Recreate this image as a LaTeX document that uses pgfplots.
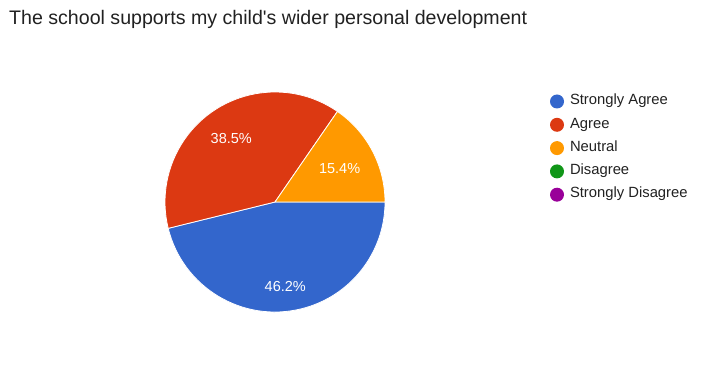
\documentclass[border=0pt]{standalone}
\usepackage{pgfplots}
\pgfplotsset{compat=1.18}
\usepackage{fontspec}
\setmainfont{Liberation Sans}
\definecolor{cSA}{HTML}{3366CC}
\definecolor{cA}{HTML}{DC3912}
\definecolor{cN}{HTML}{FF9900}
\definecolor{cD}{HTML}{109618}
\definecolor{cSD}{HTML}{990099}
\definecolor{txt}{HTML}{212121}
% #1 cumulative percent before slice, #2 percent, #3 colour
\newcommand\slice[3]{%
  \fill[#3, draw=white, line width=0.8bp] (axis cs:275,167) -- ++({360-3.6*(#1+#2)}:110bp)
    arc[start angle={360-3.6*(#1+#2)}, end angle={360-3.6*(#1)}, radius=110bp] -- cycle;
}
\newcommand\slicelabel[4]{%
  \path (axis cs:275,167) ++({360-3.6*(#1+#2/2)}:#4bp) node[text=white, font=\fontsize{14.5bp}{17bp}\selectfont] {#3\%};
}
\begin{document}
\begin{tikzpicture}
\begin{axis}[
  scale only axis, width=720bp, height=369bp,
  xmin=0, xmax=720, ymin=0, ymax=369, enlargelimits=false,
  hide axis, clip=false,
  legend style={at={(axis cs:550,274.5)}, anchor=north west, draw=none, fill=none,
    inner sep=0pt, outer sep=0pt, row sep=9.3bp,
    font=\fontsize{14.8bp}{17bp}\selectfont, text=txt,
    nodes={inner xsep=6bp, inner ysep=0pt, text height=10bp, text depth=3.5bp}},
  legend cell align=left,
  legend image code/.code={\fill[#1, draw=none] (0bp,0bp) circle (7bp);},
]
\path[draw=none] (axis cs:0,0) rectangle (axis cs:720,369);
\slice{0}{46.15}{cSA}
\slice{46.15}{38.46}{cA}
\slice{84.61}{15.39}{cN}
\slicelabel{0}{46.15}{46.2}{85}
\slicelabel{46.15}{38.46}{38.5}{77}
\slicelabel{84.61}{15.39}{15.4}{73}
\addlegendimage{fill=cSA}\addlegendentry{Strongly Agree}
\addlegendimage{fill=cA}\addlegendentry{Agree}
\addlegendimage{fill=cN}\addlegendentry{Neutral}
\addlegendimage{fill=cD}\addlegendentry{Disagree}
\addlegendimage{fill=cSD}\addlegendentry{Strongly Disagree}
\node[anchor=base west, inner sep=0pt, text=txt, font=\fontsize{19.6bp}{23bp}\selectfont]
  at (axis cs:9,344) {The school supports my child\textquotesingle s wider personal development};
\end{axis}
\end{tikzpicture}
\end{document}
